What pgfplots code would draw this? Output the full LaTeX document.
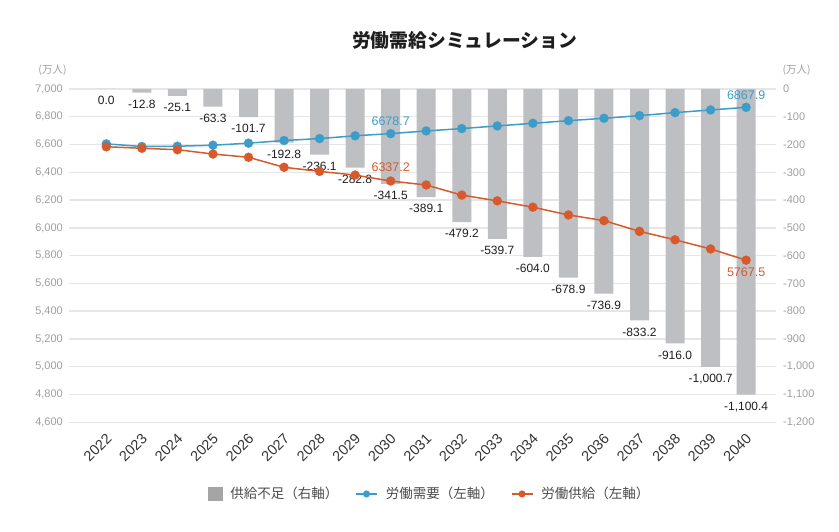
\documentclass[border=0pt]{standalone}
\usepackage{pgfplots}
\pgfplotsset{compat=1.18}
\usepackage{fontspec}
\setmainfont{Liberation Sans}
\newfontfamily\jp{Noto Sans CJK JP}
\definecolor{barc}{HTML}{BEBFC3}
\definecolor{barleg}{HTML}{A5A5A5}
\definecolor{dem}{HTML}{3C9DC8}
\definecolor{sup}{HTML}{D65A2C}
\definecolor{gridc}{HTML}{E6E6E6}
\definecolor{tickc}{HTML}{9E9E9E}
\definecolor{txt}{HTML}{1E1E1E}
\definecolor{legc}{HTML}{4A4A4A}
\begin{document}
\begin{tikzpicture}
\useasboundingbox (0,0) rectangle (839pt,532pt);
% ---------- right axis: shortage bars ----------
\begin{axis}[
  at={(69pt,109.7pt)}, anchor=south west, scale only axis,
  width=707pt, height=333.3pt,
  xmin=-1.05, xmax=18.84, ymin=-1200, ymax=0,
  axis line style={draw=none}, major tick length=0pt,
  ymajorgrids, grid style={gridc, line width=1.4pt},
  ytick={-1200,-1100,...,0},
  yticklabel pos=right,
  /pgf/number format/.cd, 1000 sep={,}, assume math mode=true, /pgfplots/.cd,
  yticklabel style={anchor=west, inner sep=0pt, xshift=7pt, text=tickc, font=\fontsize{11}{13}\selectfont},
  xtick={0,...,18},
  xticklabels={2022,2023,2024,2025,2026,2027,2028,2029,2030,2031,2032,2033,2034,2035,2036,2037,2038,2039,2040},
  xticklabel style={xshift=-1pt, yshift=-10pt, rotate=45, anchor=north east, inner sep=0pt, text=txt!90, font=\fontsize{14.5}{17}\selectfont},
  ybar, bar width=19pt,
]
\addplot[fill=barc, draw=none, bar shift=0pt,
  nodes near coords={\pgfmathprintnumber[fixed,fixed zerofill,precision=1,1000 sep={,},assume math mode=true]{\pgfplotspointmeta}},
  nodes near coords align={anchor=north},
  every node near coord/.append style={anchor=north, yshift=-3.7pt, text=txt, font=\fontsize{12}{14}\selectfont}]
coordinates {
(0,0.0) (1,-12.8) (2,-25.1) (3,-63.3) (4,-101.7) (5,-192.8) (6,-236.1) (7,-282.8) (8,-341.5) (9,-389.1)
(10,-479.2) (11,-539.7) (12,-604.0) (13,-678.9) (14,-736.9) (15,-833.2) (16,-916.0) (17,-1000.7) (18,-1100.4)
};
\end{axis}
% ---------- left axis: demand and supply ----------
\begin{axis}[
  at={(69pt,109.7pt)}, anchor=south west, scale only axis,
  width=707pt, height=333.3pt,
  xmin=-1.05, xmax=18.84, ymin=4600, ymax=7000,
  axis line style={draw=none}, major tick length=0pt,
  xtick=\empty,
  ytick={4600,4800,...,7000},
  /pgf/number format/.cd, 1000 sep={,}, assume math mode=true, /pgfplots/.cd,
  yticklabel style={anchor=east, inner sep=0pt, xshift=-6pt, text=tickc, font=\fontsize{11}{13}\selectfont},
  legend style={at={(0.51,-0.215)}, anchor=center, draw=none, fill=none,
    legend columns=3, font=\jp\fontsize{13.5}{16}\selectfont, text=legc,
    /tikz/every odd column/.append style={column sep=6pt},
    /tikz/every even column/.append style={column sep=15pt}},
  legend cell align=left,
]
\addlegendimage{legend image code/.code={\fill[barleg] (0pt,-6.5pt) rectangle (14pt,6.5pt);}}
\addlegendentry{供給不足（右軸）}
\addplot[dem, line width=1.5pt, mark=*, mark size=4.6pt, mark options={solid, fill=dem, draw=dem, line width=0.1pt},
  legend image code/.code={\draw[dem, line width=1.5pt] (0pt,0pt) -- (21pt,0pt); \fill[dem] (10.5pt,0pt) circle (2.8pt);}]
coordinates {
(0,6605) (1,6586) (2,6588) (3,6595) (4,6610) (5,6629) (6,6643) (7,6663) (8,6678.7) (9,6698)
(10,6715) (11,6734) (12,6753) (13,6772) (14,6789) (15,6808) (16,6830) (17,6849) (18,6867.9)
};
\addlegendentry{労働需要（左軸）}
\addplot[sup, line width=1.5pt, mark=*, mark size=4.6pt, mark options={solid, fill=sup, draw=sup, line width=0.1pt},
  legend image code/.code={\draw[sup, line width=1.5pt] (0pt,0pt) -- (21pt,0pt); \fill[sup] (10.5pt,0pt) circle (2.8pt);}]
coordinates {
(0,6584) (1,6573.2) (2,6562.9) (3,6531.7) (4,6508.3) (5,6436.2) (6,6406.9) (7,6380.2) (8,6337.2) (9,6308.9)
(10,6235.8) (11,6194.3) (12,6149.0) (13,6093.1) (14,6052.1) (15,5974.8) (16,5914.0) (17,5848.3) (18,5767.5)
};
\addlegendentry{労働供給（左軸）}
% value labels
\addplot[draw=none, forget plot,
  nodes near coords={\pgfmathprintnumber[fixed,fixed zerofill,precision=1,1000 sep={},assume math mode=true]{\pgfplotspointmeta}},
  every node near coord/.append style={anchor=south, yshift=4.5pt, text=dem, font=\fontsize{12.5}{14}\selectfont}]
coordinates {(8,6678.7) (18,6867.9)};
\addplot[draw=none, forget plot,
  nodes near coords={\pgfmathprintnumber[fixed,fixed zerofill,precision=1,1000 sep={},assume math mode=true]{\pgfplotspointmeta}},
  every node near coord/.append style={anchor=south, yshift=5.5pt, text=sup, font=\fontsize{12.5}{14}\selectfont}]
coordinates {(8,6337.2)};
\addplot[draw=none, forget plot,
  nodes near coords={\pgfmathprintnumber[fixed,fixed zerofill,precision=1,1000 sep={},assume math mode=true]{\pgfplotspointmeta}},
  every node near coord/.append style={anchor=north, yshift=-3.7pt, text=sup, font=\fontsize{12.5}{14}\selectfont}]
coordinates {(18,5767.5)};
\end{axis}
\node[font=\jp\bfseries\fontsize{18.8}{21}\selectfont, text=txt] at (464.5pt,491.3pt) {労働需給シミュレーション};
\node[font=\jp\fontsize{10.5}{12}\selectfont, text=tickc] at (52.5pt,462pt) {(万人)};
\node[font=\jp\fontsize{10.5}{12}\selectfont, text=tickc] at (796.7pt,462pt) {(万人)};
\end{tikzpicture}
\end{document}
